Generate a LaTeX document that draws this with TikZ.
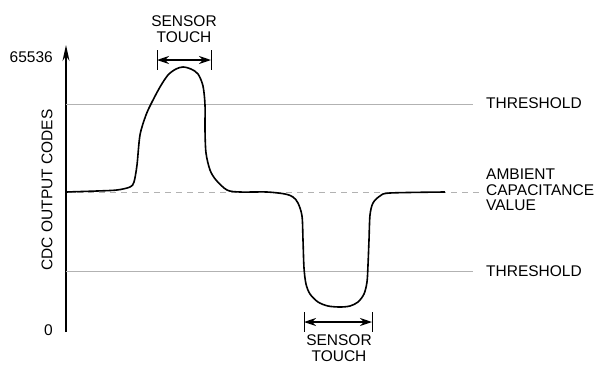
\documentclass[tikz,border=0pt]{standalone}
\usepackage{fontspec}
\setmainfont{Liberation Sans}
\usetikzlibrary{arrows.meta,positioning}

\begin{document}
\begin{tikzpicture}[x=1pt, y=-1pt, >={Stealth[length=12pt,width=8pt]},
    lbl/.style={font=\fontsize{15.5}{15.5}\selectfont, inner sep=0pt, align=center},
    level line/.style={gray!60, line width=0.8pt},
    touch tick/.style={line width=0.8pt}]
    \useasboundingbox (0,0) rectangle (603,365);

    % axis
    \coordinate (O) at (66,332);
    \coordinate (Top) at (66,45);
    \coordinate (Hi) at (66,104);
    \coordinate (Amb) at (66,192);
    \coordinate (Lo) at (66,271);
    \draw[line width=1.6pt, -{Stealth[length=16pt,width=7pt]}] (O) -- (Top);
    \node[lbl, anchor=east] (max) at (53,57) {65536};
    \node[lbl, anchor=east] (zero) at (53,330) {0};
    \node[lbl, rotate=90] (ylab) at (47,190) {CDC OUTPUT CODES};

    % levels
    \node[lbl, anchor=west] (thhi) at (486,103) {THRESHOLD};
    \node[lbl, anchor=west, align=left] (amb) at (486,190) {AMBIENT\\CAPACITANCE\\VALUE};
    \node[lbl, anchor=west] (thlo) at (486,271) {THRESHOLD};
    \draw[level line] (Hi) -- (473,104);
    \draw[level line] (Lo) -- (473,271);
    \draw[level line, dash pattern=on 6pt off 5pt] (Amb) -- (481,192);

    % signal
    \draw[line width=1.6pt, line join=round] plot[smooth, tension=0.5] coordinates {
        (66,192) (97,191) (117,190) (130,187) (134,182) (137,165) (140,135)
        (146,115) (152,102) (160,87) (168,75) (176,69) (183,67) (191,69)
        (198,74) (203,86) (205,105) (205,130) (206,153) (210,170) (216,180)
        (227,190) (240,192) (267,192) (285,194) (293,197) (298,203) (302,216)
        (303,240) (304,268) (306,284) (310,294) (318,302) (328,306) (340,307)
        (350,306) (358,302) (364,294) (367,282) (368,265) (369,240) (370,215)
        (373,203) (380,196) (390,193) (445,192)};

    % upper touch
    \coordinate (t1a) at (157,50);
    \coordinate (t1b) at (211,50);
    \draw[touch tick] (t1a) -- ++(0,20);
    \draw[touch tick] (t1b) -- ++(0,20);
    \draw[line width=1.6pt, <->] ([yshift=-10pt]t1a) -- ([yshift=-10pt]t1b);
    \node[lbl] (touchhi) at (184,29) {SENSOR\\TOUCH};

    % lower touch
    \coordinate (t2a) at (304,312);
    \coordinate (t2b) at (372,312);
    \draw[touch tick] (t2a) -- ++(0,20);
    \draw[touch tick] (t2b) -- ++(0,20);
    \draw[line width=1.6pt, <->] ([yshift=-10pt]t2a) -- ([yshift=-10pt]t2b);
    \node[lbl] (touchlo) at (339,348) {SENSOR\\TOUCH};
\end{tikzpicture}
\end{document}
